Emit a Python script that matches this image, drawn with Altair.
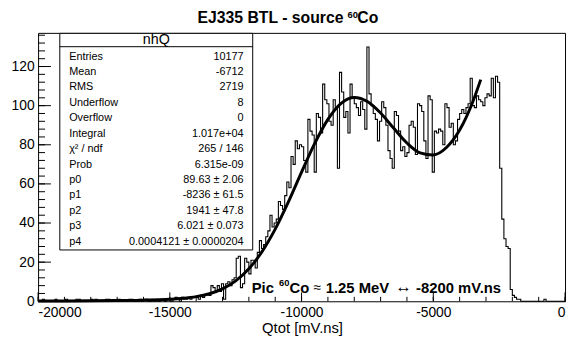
import altair as alt
import pandas as pd

# ---------------- data ----------------
bin_lo = -20000
bin_width = 80

counts_left = [0,0,1,0,0,0,0,0,1,0, 0,0,0,1,0,0,0,0,1,1, 0,0,0,0,0,1,0,1,0,0,
               0,0,1,1,0,0,0,0,1,0, 0,0,0,1,1,0,0,0,1,0, 1,1,0,0,1,0,1,0,1,1,
               0,1,1,0,1,2,1,0,2,1, 1,2,1,2,2]
counts_rise = [2,1,3,2,3, 4,3,8,7,5, 8,5,9,1,9,10,8,11,12,
               22,23,7,9,22,20,14,21,21,
               17,25,31,27,29, 33,36,44,38,40, 42,51,49,47, 54,61,58]
counts_plateau = [74,70, 82,78, 80,79,72,66, 93,87,85,66, 96,94,86, 111,103,101,
                  92,90,103,99,68, 117,107,94,97,86, 111,104,101,99,
                  95,102,98,88,130, 106,100,96,93, 82,92,102,99, 90,77,73,68,
                  97,95,87, 77,79,74,76, 90,92,89,75, 101,100,97,82,73,
                  105,103,66, 87,86,88,87,80, 101,99,89,91,80,82,
                  93,96,98,96,99,101, 114,100,99,105,103,102,100,
                  104,106,105,114,104,115,112]
counts_edge = [68,42,32,28,27,6,3,2,1,1,
               0,0,0,0,0,0,0,0,0,0,0,1,0,0,0,0,0,0,0,0,0]
counts = counts_left + counts_rise + counts_plateau + counts_edge

fit_q = [-20000, -19000, -18000, -17000, -16000, -15000, -14500, -14000, -13500,
         -13000, -12500, -12000, -11500, -11000, -10500, -10000, -9500, -9000,
         -8500, -8236, -8000, -7500, -7000, -6500, -6000, -5500, -5000, -4500,
         -4000, -3500, -3200]
fit_n = [0.11, 0.16, 0.25, 0.38, 0.59, 1.06, 1.54, 2.37, 3.85,
         6.35, 10.4, 16.6, 25.4, 36.9, 50.8, 66.0, 80.7, 93.0,
         101.2, 103.5, 104.2, 102.1, 96.2, 88.4, 80.9, 75.9, 74.8, 78.6,
         87.5, 102.0, 113.3]

stat_labels = ["Entries", "Mean", "RMS", "Underflow", "Overflow", "Integral",
               "\u03c7\u00b2 / ndf", "Prob", "p0", "p1", "p2", "p3", "p4"]
stat_values = ["10177", "-6712", "2719", "8", "0", "1.017e+04", "265 / 146",
               "6.315e-09", "89.63 \u00b1 2.06", "-8236 \u00b1 61.5",
               "1941 \u00b1 47.8", "6.021 \u00b1 0.073",
               "0.0004121 \u00b1 0.0000204"]

x_major = [-20000, -15000, -10000, -5000, 0]
x_minor = list(range(-20000, 1, 1000))
y_major = [0, 20, 40, 60, 80, 100, 120]
y_minor = list(range(0, 137, 4))

title_parts = ["EJ335 BTL - source", "60", "Co"]
note_parts = ["Pic", "60", "Co", "\u2248", "1.25 MeV", "\u2194", "-8200 mV.ns"]
xtitle_text = "Qtot [mV.ns]"
box_title = "nhQ"

# ---------------- build chart ----------------
W, H = 534, 272
FONT = "Liberation Sans"

edges = [bin_lo + bin_width * i for i in range(len(counts) + 1)]
hist_df = pd.DataFrame({"q": edges, "n": counts + [counts[-1]]})
fit_df = pd.DataFrame({"q": fit_q, "n": fit_n})
stats_df = pd.DataFrame({"row": list(range(len(stat_labels))),
                         "label": stat_labels, "val": stat_values})

xs = alt.Scale(domain=[-20000, 0], nice=False, zero=False)
ys = alt.Scale(domain=[0, 137.2], nice=False, zero=False)
xaxis = alt.Axis(values=x_major, labelExpr="datum.value + ''", title=None,
                 labelPadding=4)


def X(field):
    return alt.X(field, scale=xs, axis=xaxis)


hist = alt.Chart(hist_df).mark_line(
    interpolate="step-after", color="black", strokeWidth=1.1
).encode(
    x=X("q:Q"),
    y=alt.Y("n:Q", scale=ys,
            axis=alt.Axis(values=y_major, title=None, labelPadding=4)),
)

fit = alt.Chart(fit_df).mark_line(
    interpolate="monotone", color="black", strokeWidth=3
).encode(x=X("q:Q"), y=alt.Y("n:Q", scale=ys, axis=None))

xmaj = alt.Chart(pd.DataFrame({"q": x_major})).mark_rule(color="black", strokeWidth=1).encode(
    x=X("q:Q"), y=alt.value(H), y2=alt.value(H - 9))
xmin = alt.Chart(pd.DataFrame({"q": x_minor})).mark_rule(color="black", strokeWidth=1).encode(
    x=X("q:Q"), y=alt.value(H), y2=alt.value(H - 4.5))
ymaj = alt.Chart(pd.DataFrame({"v": y_major})).mark_rule(color="black", strokeWidth=1).encode(
    y=alt.Y("v:Q", scale=ys, axis=None), x=alt.value(0), x2=alt.value(13))
ymin = alt.Chart(pd.DataFrame({"v": y_minor})).mark_rule(color="black", strokeWidth=1).encode(
    y=alt.Y("v:Q", scale=ys, axis=None), x=alt.value(0), x2=alt.value(7))

box = alt.Chart(pd.DataFrame({"a": [0]})).mark_rect(
    fill="white", stroke="black", strokeWidth=1
).encode(x=alt.value(22), x2=alt.value(217.5), y=alt.value(0.5), y2=alt.value(220))

box_line = alt.Chart(pd.DataFrame({"a": [0]})).mark_rule(color="black", strokeWidth=1).encode(
    x=alt.value(22), x2=alt.value(217.5), y=alt.value(14))


def label(text, x, y, size, weight="normal", align="left"):
    return alt.Chart(pd.DataFrame({"t": [text]})).mark_text(
        font=FONT, fontSize=size, fontWeight=weight, align=align,
        baseline="middle", color="black"
    ).encode(x=alt.value(x), y=alt.value(y), text="t:N")


box_head = label(box_title, 119.75, 7.5, 14.5, align="center")

row_scale = alt.Scale(domain=[0, 12], range=[24, 211.7])
stat_lab = alt.Chart(stats_df).mark_text(
    font=FONT, fontSize=11, align="left", baseline="middle", color="black"
).encode(x=alt.value(31.5), y=alt.Y("row:Q", scale=row_scale, axis=None), text="label:N")
stat_val = alt.Chart(stats_df).mark_text(
    font=FONT, fontSize=11, align="right", baseline="middle", color="black"
).encode(x=alt.value(208.2), y=alt.Y("row:Q", scale=row_scale, axis=None), text="val:N")

# title pieces (plot coordinates: page - (38.5, 31))
t1 = label(title_parts[0], 161.5, -15.3, 16, "bold")
t2 = label(title_parts[1], 313.5, -18, 9.5, "bold")
t3 = label(title_parts[2], 323.5, -15.3, 16, "bold")

xtitle = label(xtitle_text, 268, 299, 15, align="center")

n1 = label(note_parts[0], 216.5, 258.5, 15, "bold")
n2 = label(note_parts[1], 244.2, 254, 9.5, "bold")
n3 = label(note_parts[2], 254.8, 258.5, 15, "bold")
n4 = label(note_parts[3], 279, 258.5, 14)
n5 = label(note_parts[4], 291.5, 258.5, 15, "bold")
n6 = label(note_parts[5], 362, 257.5, 17)
n7 = label(note_parts[6], 383, 258.5, 15, "bold")

chart = alt.layer(
    hist, fit, xmaj, xmin, ymaj, ymin, box, box_line, box_head,
    stat_lab, stat_val, t1, t2, t3, xtitle, n1, n2, n3, n4, n5, n6, n7
).resolve_scale(y="independent").properties(
    width=W, height=H,
    padding={"left": 30.5, "top": 23, "right": 2, "bottom": 35},
    autosize=alt.AutoSizeParams(type="none"),
).configure_view(
    stroke="black", strokeWidth=1
).configure_axis(
    labelFont=FONT, labelFontSize=14, labelColor="black",
    ticks=False, tickSize=0, domain=False, grid=False,
)

chart.save("out.html", embed_options={"renderer": "svg", "actions": False})
